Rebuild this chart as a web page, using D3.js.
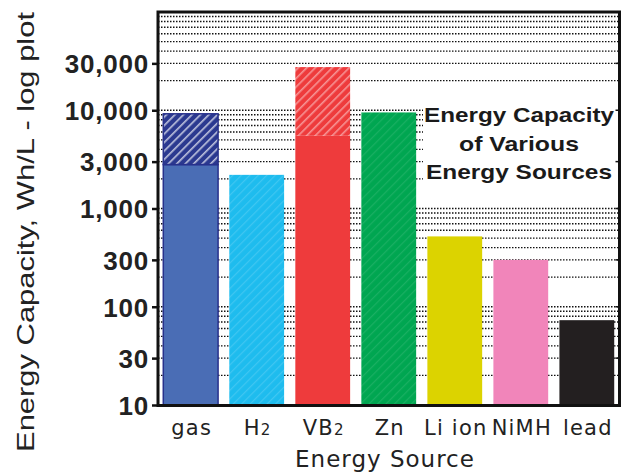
<!DOCTYPE html>
<html>
<head>
<meta charset="utf-8">
<script src="https://cdn.jsdelivr.net/npm/d3@7"></script>
<style>
  html, body { margin: 0; padding: 0; background: #fff; }
  svg { display: block; }
</style>
</head>
<body>
<svg id="chart" width="622" height="473"></svg>
<script>
// ---- data ----
const categories = ["gas", "H2", "VB2", "Zn", "Li ion", "NiMH", "lead"];
const baseValues = [2800, 2200, 5500, 9500, 520, 300, 73];          // solid part
const upperValues = [9200, null, 27500, null, null, null, null];     // hatched range top
const barColors = ["#4a6db5", "#1ebcee", "#ee3b3c", "#00a651", "#dcd300", "#f185ba", "#231f20"];
const tickValues = [10, 30, 100, 300, 1000, 3000, 10000, 30000];
const tickLabels = ["10", "30", "100", "300", "1,000", "3,000", "10,000", "30,000"];
const yTitle = "Energy Capacity, Wh/L - log plot";
const xTitle = "Energy Source";
const noteLines = ["Energy Capacity", "of Various", "Energy Sources"];

// ---- layout ----
const svg = d3.select("#chart");
const X0 = 158, X1 = 619.5, Y0 = 12, Y1 = 405.5;

const x = d3.scaleBand().domain(categories).range([X0, X1]).paddingInner(0.17).paddingOuter(0.08);
const y = d3.scaleLog().domain([10, 100000]).range([405, Y0]);

// patterns
const defs = svg.append("defs");
function hatch(id, bg, stripe, op, w) {
  const p = defs.append("pattern").attr("id", id).attr("patternUnits", "userSpaceOnUse")
    .attr("width", 6).attr("height", 6).attr("patternTransform", "rotate(45)");
  p.append("rect").attr("width", 6).attr("height", 6).attr("fill", bg);
  p.append("rect").attr("x", 0).attr("width", w).attr("height", 6).attr("fill", stripe).attr("opacity", op);
}
hatch("h-gas", "#2b3990", "#ffffff", 0.7, 1.6);
hatch("h-vb2", "#ee3b3c", "#ffffff", 0.45, 1.6);
hatch("h-h2", "#1ebcee", "#ffffff", 0.15, 1.2);
hatch("h-zn", "#00a651", "#ffffff", 0.1, 1.2);
const fillFor = { "H2": "url(#h-h2)", "Zn": "url(#h-zn)" };

// gridlines (dotted at every log step)
const gridVals = [];
for (let e = 1; e < 5; e++) for (let m = 1; m <= 9; m++) {
  const v = m * Math.pow(10, e);
  if (v > 10) gridVals.push(v);
}
svg.append("g").selectAll("line").data(gridVals).join("line")
  .attr("x1", X0).attr("x2", X1)
  .attr("y1", d => y(d)).attr("y2", d => y(d))
  .attr("stroke", "#111").attr("stroke-width", 1.4)
  .attr("stroke-dasharray", "1.5,1.5");

// annotation white box (covers gridlines)
svg.append("rect").attr("x", 423).attr("y", 103).attr("width", X1 - 423).attr("height", 97).attr("fill", "#fff");

// bars
const bars = svg.append("g");
categories.forEach((c, i) => {
  bars.append("rect")
    .attr("x", x(c)).attr("width", x.bandwidth())
    .attr("y", y(baseValues[i])).attr("height", y(10) - y(baseValues[i]))
    .attr("fill", fillFor[c] || barColors[i])
    .attr("stroke", c === "gas" ? "#27318c" : "none").attr("stroke-width", 1.5);
  if (upperValues[i] != null) {
    bars.append("rect")
      .attr("x", x(c)).attr("width", x.bandwidth())
      .attr("y", y(upperValues[i])).attr("height", y(baseValues[i]) - y(upperValues[i]))
      .attr("fill", c === "gas" ? "url(#h-gas)" : "url(#h-vb2)")
      .attr("stroke", c === "gas" ? "#27318c" : "none").attr("stroke-width", 1.5);
  }
});

// frame
svg.append("rect").attr("x", X0).attr("y", Y0).attr("width", X1 - X0).attr("height", Y1 - Y0)
  .attr("fill", "none").attr("stroke", "#111").attr("stroke-width", 3);

// y axis (ticks outward + labels)
const yAxis = d3.axisLeft(y).tickValues(tickValues)
  .tickFormat((d, i) => tickLabels[i]).tickSize(5).tickPadding(3);
const ya = svg.append("g").attr("transform", `translate(${X0 - 1},0)`).call(yAxis);
ya.select(".domain").remove();
ya.selectAll(".tick line").attr("stroke", "#111").attr("stroke-width", 2.5);
ya.selectAll(".tick text")
  .attr("font-family", "'Liberation Sans', Arial, sans-serif")
  .attr("font-weight", "bold").attr("font-size", 26).attr("fill", "#222")
  .attr("letter-spacing", 0.8)
  .attr("dy", "0.36em");

// right minor ticks
svg.append("g").selectAll("line").data(tickValues.filter(v => v > 10)).join("line")
  .attr("x1", X1 - 4).attr("x2", X1).attr("y1", d => y(d)).attr("y2", d => y(d))
  .attr("stroke", "#111").attr("stroke-width", 1.5);

// x labels
const xl = svg.append("g").attr("font-family", "'DejaVu Sans', sans-serif")
  .attr("font-size", 21).attr("fill", "#222").attr("text-anchor", "middle").attr("letter-spacing", 1.2);
categories.forEach(c => {
  const t = xl.append("text").attr("x", x(c) + x.bandwidth() / 2 + 1).attr("y", 435);
  const m = c.match(/^(.*?)(\d)$/);
  if (m) {
    t.append("tspan").text(m[1]);
    t.append("tspan").attr("font-size", 15).text(m[2]);
  } else {
    t.text(c);
  }
});

// x title
svg.append("text").attr("x", 385).attr("y", 467).attr("text-anchor", "middle")
  .attr("font-family", "'DejaVu Sans', sans-serif").attr("font-size", 23)
  .attr("letter-spacing", 1).attr("fill", "#222").text(xTitle);

// y title
svg.append("text").attr("transform", "translate(34,232) rotate(-90)")
  .attr("text-anchor", "middle")
  .attr("font-family", "'Liberation Sans', Arial, sans-serif").attr("font-size", 24)
  .attr("fill", "#222")
  .attr("textLength", 440).attr("lengthAdjust", "spacingAndGlyphs")
  .text(yTitle);

// annotation
const note = svg.append("g").attr("font-family", "'Liberation Sans', Arial, sans-serif")
  .attr("font-weight", "bold").attr("font-size", 21).attr("fill", "#1a1a1a").attr("text-anchor", "middle");
const noteY = [122, 151, 179];
const noteLen = [190, 120, 186];
noteLines.forEach((l, i) => {
  note.append("text").attr("x", 519).attr("y", noteY[i])
    .attr("textLength", noteLen[i]).attr("lengthAdjust", "spacingAndGlyphs").text(l);
});
</script>
</body>
</html>
